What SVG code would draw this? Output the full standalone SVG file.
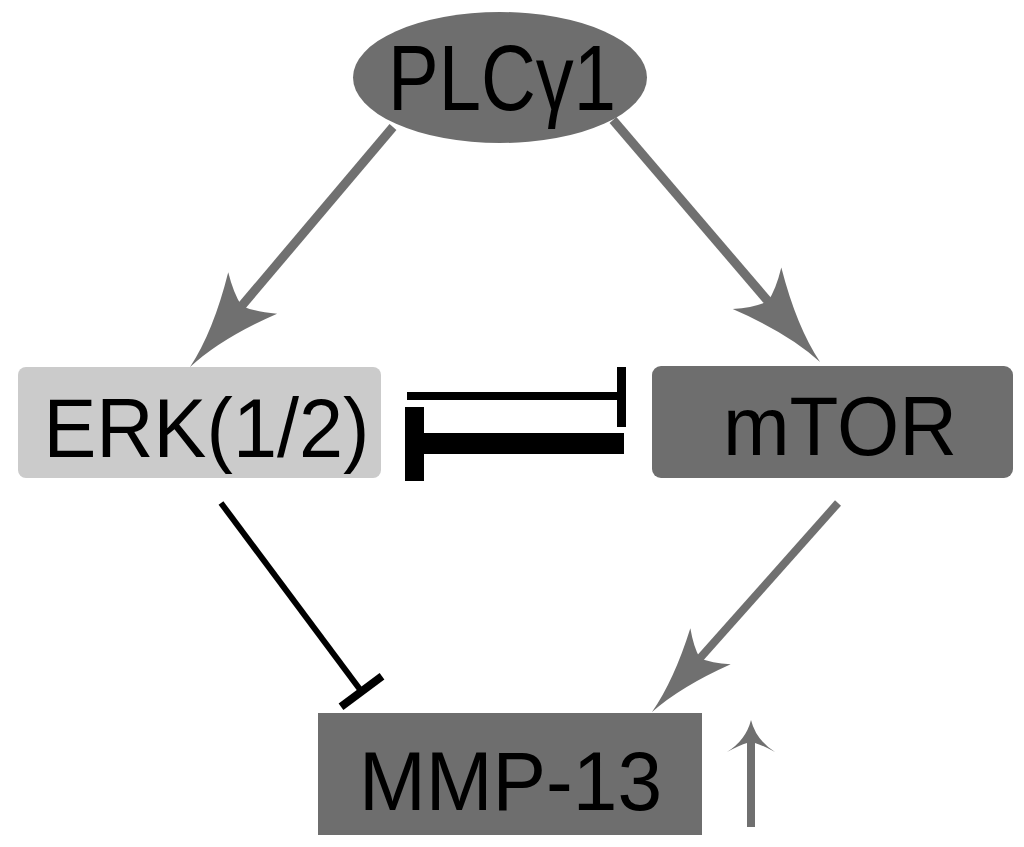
<svg xmlns="http://www.w3.org/2000/svg" width="1024" height="847" viewBox="0 0 1024 847">
  <style>
    .lbl { font-family: "Liberation Sans", Arial, sans-serif; fill: #000; text-anchor: middle; }
    .act { stroke: #707070; fill: none; }
    .inh { stroke: #000; fill: none; }
    .dark { fill: #6e6e6e; }
    .light { fill: #cbcbcb; }
  </style>
  <defs>
    <marker id="barb" markerUnits="userSpaceOnUse" orient="auto" refX="15" refY="0" markerWidth="10" markerHeight="10" overflow="visible">
      <path d="M80 0 Q38 -5 -17 -32 Q-4 -14 0 0 Q-4 14 -17 32 Q38 5 80 0 Z" fill="#707070"/>
    </marker>
    <marker id="barb2" markerUnits="userSpaceOnUse" orient="auto" refX="13.5" refY="0" markerWidth="10" markerHeight="10" overflow="visible">
      <path d="M72 0 Q34 -4.5 -16 -27 Q-4 -12 0 0 Q-4 12 -16 27 Q34 4.5 72 0 Z" fill="#707070"/>
    </marker>
  </defs>
  <rect width="1024" height="847" fill="#fff"/>

  <g id="connectors">
    <line class="act" x1="393" y1="127" x2="232" y2="317.4" stroke-width="9" marker-end="url(#barb)"/>
    <line class="act" x1="613" y1="120" x2="777.8" y2="312.6" stroke-width="9" marker-end="url(#barb)"/>
    <line class="act" x1="838" y1="503" x2="690.9" y2="668.3" stroke-width="8" marker-end="url(#barb2)"/>
    <line class="inh" x1="221" y1="503" x2="361.5" y2="691.5" stroke-width="6"/>
    <line class="inh" x1="341" y1="706.7" x2="382" y2="676.3" stroke-width="8"/>
    <rect x="407" y="392" width="215" height="8" fill="#000"/>
    <rect x="617" y="367" width="9" height="60" fill="#000"/>
    <rect x="423" y="433" width="201" height="21" fill="#000"/>
    <rect x="405" y="407" width="19" height="74" fill="#000"/>
    <path d="M751 720 Q756 740 775 752 Q762 745 755 743 L755 827 L747 827 L747 743 Q740 745 727 752 Q746 740 751 720 Z" fill="#707070"/>
  </g>

  <g id="plcg1">
    <ellipse cx="500" cy="77.5" rx="147" ry="65.5" class="dark"/>
    <text class="lbl" x="502" y="110" font-size="93" textLength="228" lengthAdjust="spacingAndGlyphs">PLCγ1</text>
  </g>

  <g id="erk">
    <rect x="18" y="367" width="363" height="111" rx="8" class="light"/>
    <text class="lbl" x="206.5" y="457" font-size="84" textLength="326" lengthAdjust="spacingAndGlyphs">ERK(1/2)</text>
  </g>

  <g id="mtor">
    <rect x="652" y="366" width="361" height="112" rx="9" class="dark"/>
    <text class="lbl" x="840" y="455" font-size="84" textLength="234" lengthAdjust="spacingAndGlyphs">mTOR</text>
  </g>

  <g id="mmp13">
    <rect x="318" y="713" width="384" height="122" class="dark"/>
    <text class="lbl" x="510.5" y="810" font-size="84" textLength="303" lengthAdjust="spacingAndGlyphs">MMP-13</text>
  </g>
</svg>
